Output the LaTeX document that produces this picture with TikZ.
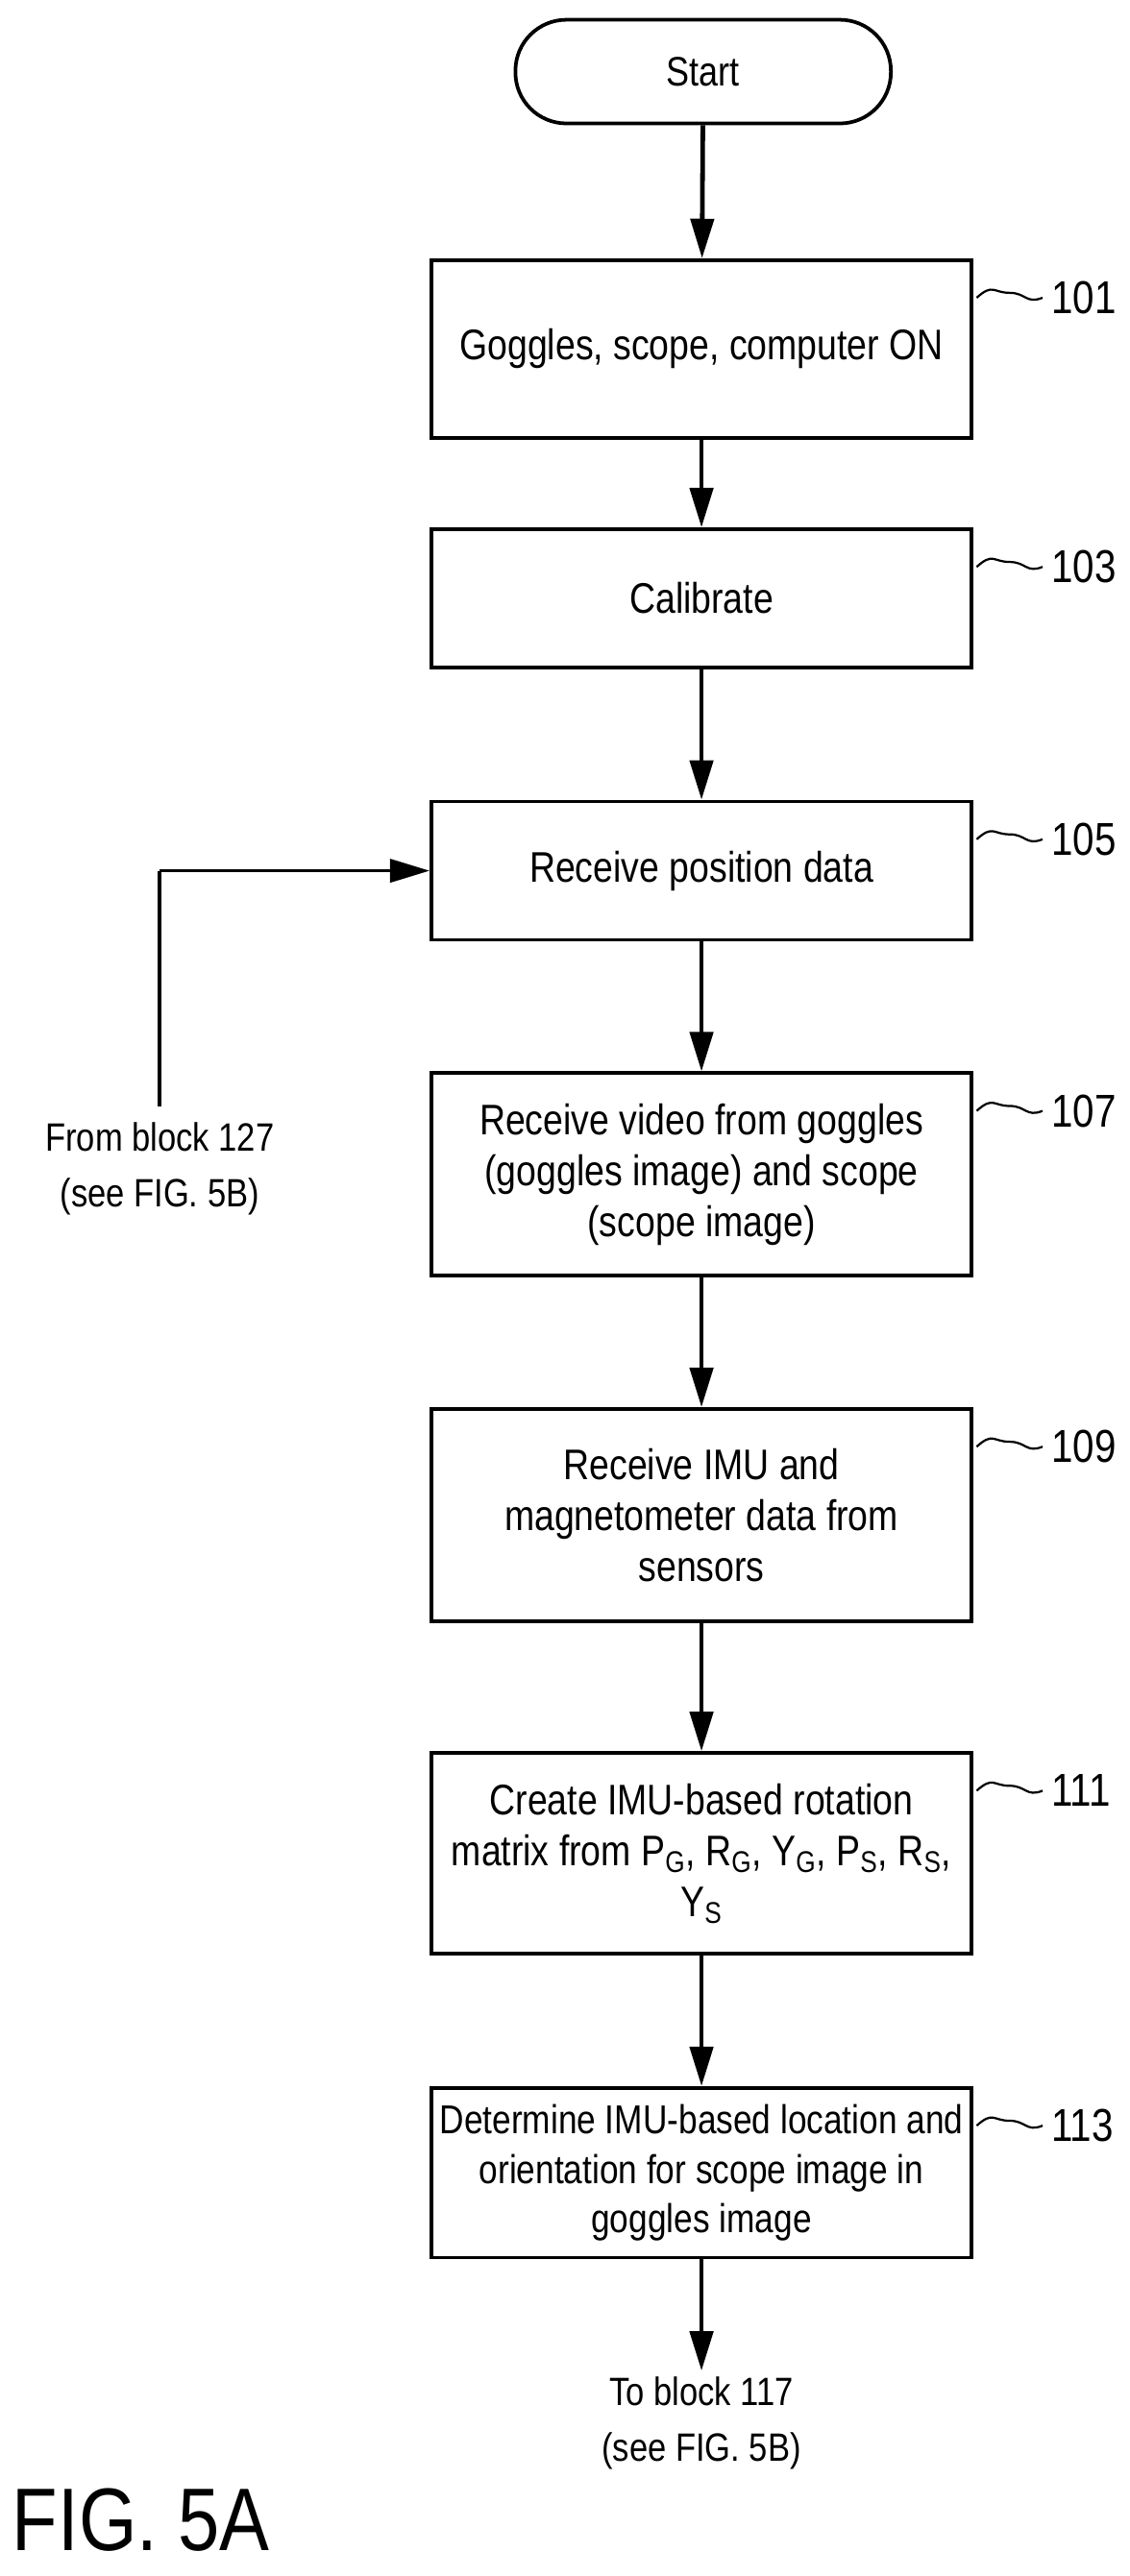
\documentclass[tikz,border=0pt]{standalone}
\usepackage{fontspec}
\setmainfont{Liberation Sans}[FakeStretch=0.84]
\usetikzlibrary{arrows.meta}
\begin{document}
\begin{tikzpicture}[x=1pt,y=-1pt,
  box/.style={draw,line width=2.2pt,minimum width=328pt,align=center,inner sep=2pt,font=\fontsize{26}{31}\selectfont},
  arr/.style={line width=2.8pt,-{Triangle[length=24pt,width=14pt]}},
  lab/.style={anchor=west,font=\fontsize{28}{30}\selectfont},
  txt/.style={align=center,font=\fontsize{24}{34}\selectfont}]
\useasboundingbox (0,0) rectangle (686,1565);
\node[draw,line width=2.2pt,rounded corners=31pt,minimum width=228pt,minimum height=63pt,font=\fontsize{25}{26}\selectfont] (s) at (427,43.5) {Start};
\node[box,minimum height=108pt] (b1) at (426,212) {Goggles, scope, computer ON};
\node[box,minimum height=84pt] (b3) at (426,363.5) {Calibrate};
\node[box,minimum height=84pt] (b5) at (426,529) {Receive position data};
\node[box,minimum height=123pt] (b7) at (426,713.5) {Receive video from goggles\\(goggles image) and scope\\(scope image)};
\node[box,minimum height=129pt] (b9) at (426,920.5) {Receive IMU and\\magnetometer data from\\sensors};
\node[box,minimum height=122pt] (b11) at (426,1126) {Create IMU-based rotation\\matrix from P\textsubscript{G}, R\textsubscript{G}, Y\textsubscript{G}, P\textsubscript{S}, R\textsubscript{S},\\Y\textsubscript{S}};
\node[box,minimum height=103pt,font=\fontsize{24.5}{30}\selectfont] (b13) at (426,1320) {Determine IMU-based location and\\orientation for scope image in\\goggles image};
\node[txt] (to) at (426,1472) {To block 117\\(see FIG. 5B)};
\node[txt] (from) at (97,710) {From block 127\\(see FIG. 5B)};
\node[anchor=west,font=\fontsize{54}{58}\selectfont] (fig) at (4,1531) {FIG. 5A};
\coordinate (fa) at (97,672);
\coordinate (fb) at (97,529);
\draw[arr] (s) -- (b1);
\draw[arr] (b1) -- (b3);
\draw[arr] (b3) -- (b5);
\draw[arr] (b5) -- (b7);
\draw[arr] (b7) -- (b9);
\draw[arr] (b9) -- (b11);
\draw[arr] (b11) -- (b13);
\draw[arr] (b13) -- (to.north);
\draw[line width=2.2pt] (fa) -- (fb);
\draw[arr,line width=2.2pt] (fb) -- (b5.west);
\foreach \b/\n in {b1/101,b3/103,b5/105,b7/107,b9/109,b11/111,b13/113}{
  \draw[line width=1.3pt] ([yshift=-24pt]\b.north east) ++(2,0) .. controls +(10,-9) and +(-10,0) .. ++(20,-3) .. controls +(10,0) and +(-10,4) .. ++(20,3) coordinate (q\n);
  \node[lab] (l\n) at ([xshift=2pt]q\n) {\n};
}
\end{tikzpicture}
\end{document}
